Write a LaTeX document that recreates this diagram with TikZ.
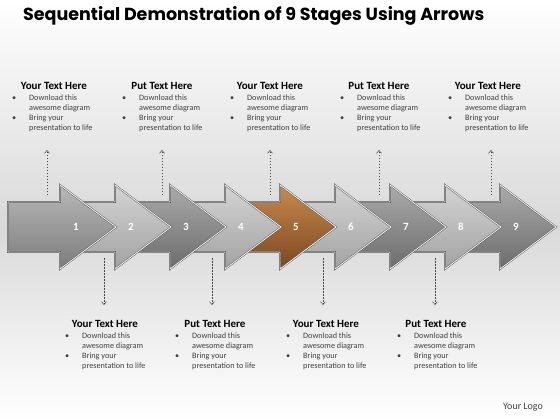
\documentclass[tikz,border=0pt]{standalone}
\usepackage{fontspec}
\setmainfont{Carlito}
\newfontfamily\titlefont{Poppins}
\usetikzlibrary{arrows.meta}
\definecolor{medA}{HTML}{B8B8B8}\definecolor{medB}{HTML}{7C7C7C}
\definecolor{litA}{HTML}{D4D4D4}\definecolor{litB}{HTML}{A2A2A2}
\definecolor{drkA}{HTML}{ABABAB}\definecolor{drkB}{HTML}{6C6C6C}
\definecolor{brnA}{HTML}{C98A4E}\definecolor{brnB}{HTML}{7A4820}
\definecolor{bandgray}{HTML}{D9D9D9}
\definecolor{txtgray}{HTML}{404040}
\tikzset{
  stagebody/.style={draw=gray!55!black, double=white!92!gray, double distance=0.9pt, line join=miter},
  stagenum/.style={text=white, font=\fontsize{11}{13}\selectfont\bfseries, inner sep=0pt},
  dashline/.style={gray!55!black, line width=0.5pt, dash pattern=on 1.5pt off 1.5pt, -{Straight Barb[length=3pt,width=5pt]}},
  blocktitle/.style={font=\fontsize{11}{13}\selectfont\bfseries, text=black, inner sep=0pt},
  blockbody/.style={font=\fontsize{8.2}{10}\selectfont, text=txtgray, inner sep=0pt, anchor=north west},
}
\newcommand\BulletBlock{\begin{tabular}{@{}p{17pt}@{}l@{}}\textbullet & Download this\\ & awesome diagram\\ \textbullet & Bring your\\ & presentation to life\end{tabular}}
\begin{document}
\begin{tikzpicture}[x=1pt,y=-1pt]
\useasboundingbox (0,0) rectangle (560,420);
\shade[top color=white, bottom color=bandgray] (0,0) rectangle (560,227);
\shade[top color=bandgray, bottom color=white] (0,227) rectangle (560,420);
% title
\node[font=\titlefont\fontsize{17.5}{20}\selectfont\bfseries, anchor=west, inner sep=0pt] (title) at (23,16) {Sequential Demonstration of 9 Stages Using Arrows};
% dashed connectors (behind arrows)
\foreach \k/\x in {1/47,2/162,3/270,4/379,5/491}{
  \coordinate (ua\k) at (\x,195);
  \coordinate (ub\k) at (\x,150);
  \draw[dashline] (ua\k) -- (ub\k);
}
\foreach \k/\x in {1/104,2/212,3/323,4/435}{
  \coordinate (da\k) at (\x,258);
  \coordinate (db\k) at (\x,305);
  \draw[dashline] (da\k) -- (db\k);
}
% arrows, drawn from last to first
\foreach \i/\tc/\bc in {9/drkA/drkB,8/litA/litB,7/drkA/drkB,6/litA/litB,5/brnA/brnB,4/litA/litB,3/drkA/drkB,2/litA/litB,1/medA/medB}{
  \pgfmathsetmacro\bx{60+55*(\i-1)}
  \pgfmathsetmacro\sx{\i==1 ? 8 : \bx-55}
  \pgfmathsetmacro\tx{\bx+56}
  \path[stagebody, top color=\tc, bottom color=\bc] (\sx,202) -- (\bx,202) -- (\bx,185) -- (\tx,227) -- (\bx,269) -- (\bx,252) -- (\sx,252) -- cycle;
  \node[stagenum] (n\i) at (\bx+16,227) {\i};
}
% top text blocks
\foreach \k/\t/\b/\c in {1/Your Text Here/12/54,2/Put Text Here/122/162,3/Your Text Here/230/270,4/Put Text Here/340/379,5/Your Text Here/448/488}{
  \node[blocktitle] (tt\k) at (\c,86) {\t};
  \node[blockbody] (tb\k) at (\b,93.5) {\BulletBlock};
}
% bottom text blocks
\foreach \k/\t/\b/\c in {1/Your Text Here/65/105,2/Put Text Here/175/215,3/Your Text Here/286/326,4/Put Text Here/397/436}{
  \node[blocktitle] (bt\k) at (\c,324) {\t};
  \node[blockbody] (bb\k) at (\b,331.5) {\BulletBlock};
}
\node[font=\fontsize{10}{12}\selectfont, text=txtgray, inner sep=0pt] (logo) at (523,407) {Your Logo};
\end{tikzpicture}
\end{document}
